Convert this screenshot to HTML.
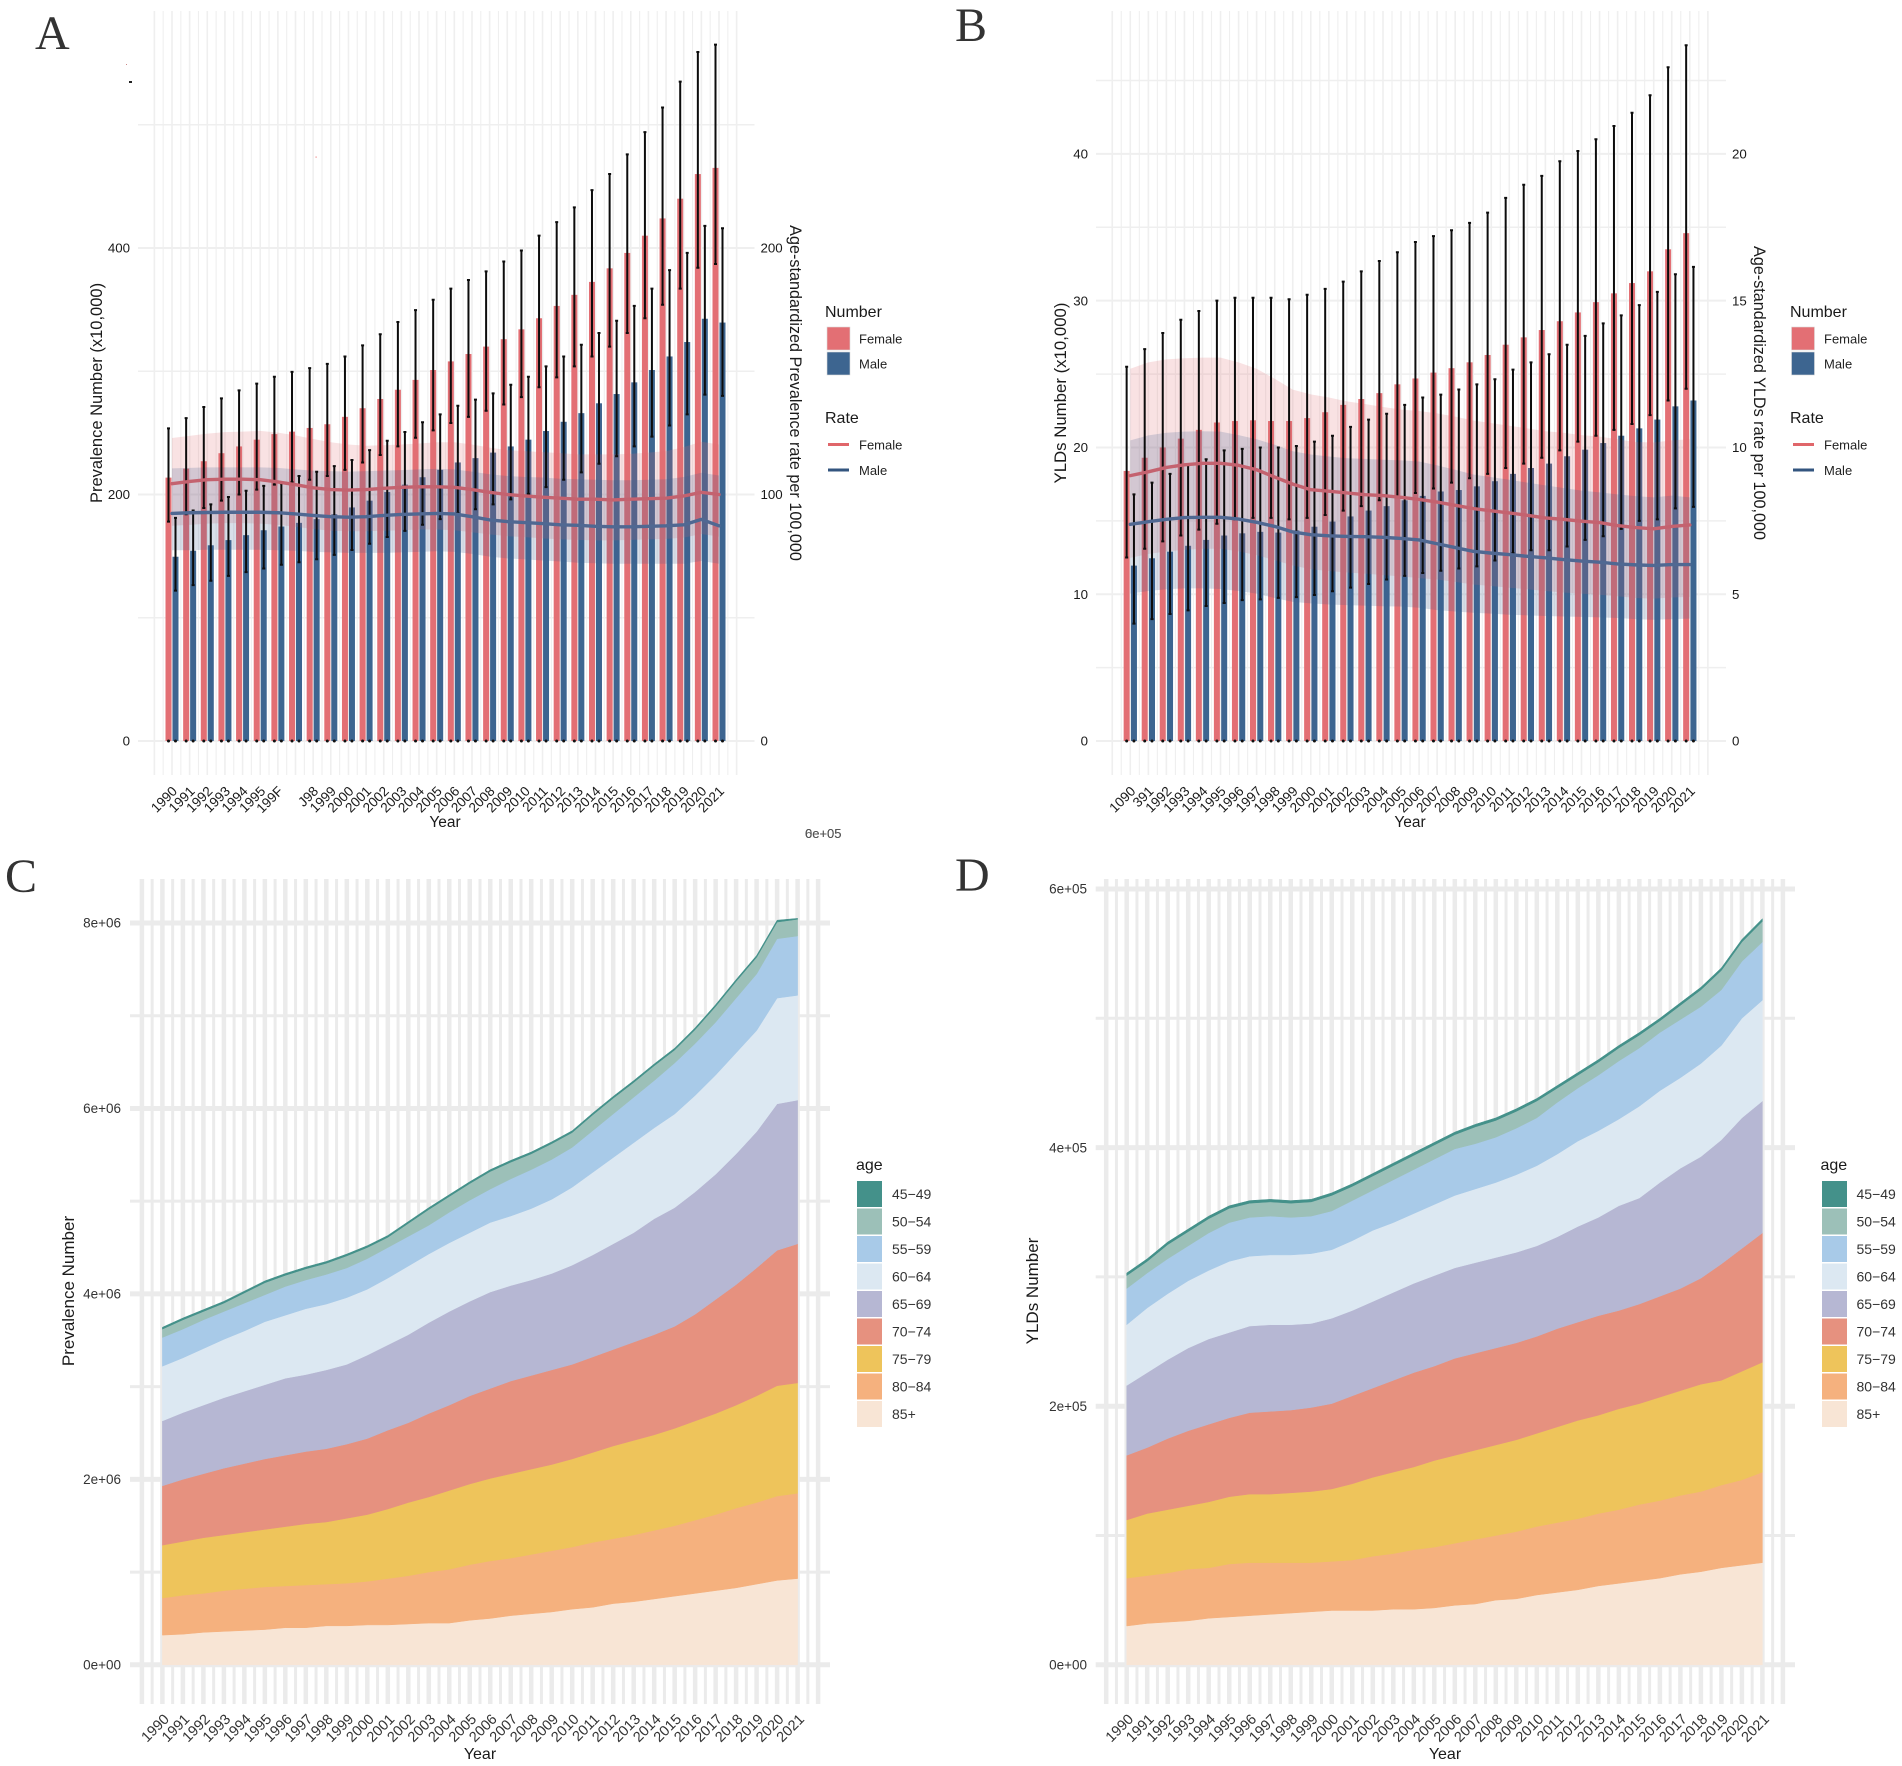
<!DOCTYPE html>
<html lang="en">
<head>
<meta charset="utf-8">
<title>Prevalence and YLDs charts</title>
<style>
html,body{margin:0;padding:0;background:#fff;}
body{width:1902px;height:1766px;overflow:hidden;}
svg{display:block;font-family:"Liberation Sans",sans-serif;}
.ttl{font-size:16.2px;fill:#1a1a1a;}
.lt{font-size:16px;fill:#1a1a1a;}
.ll{font-size:13px;fill:#222;}
.al{font-size:14px;fill:#333;}
.pl{font-family:"Liberation Serif",serif;font-size:48px;fill:#333;}
</style>
</head>
<body>
<svg id="figure" width="1902" height="1766" viewBox="0 0 1902 1766" xmlns="http://www.w3.org/2000/svg">
  <rect width="1902" height="1766" fill="#fff"/>
  <g id="panelA"></g>
  <g id="panelB"></g>
  <g id="panelC"></g>
  <g id="panelD"></g>

  <text class="pl" x="35" y="49">A</text>
  <text class="pl" x="955" y="41">B</text>
  <text class="pl" x="5" y="892">C</text>
  <text class="pl" x="955" y="891">D</text>

  <rect x="129" y="81" width="3" height="2" fill="#222"/>
  <rect x="126" y="64" width="1" height="1" fill="#c88"/>
  <rect x="315.5" y="156.5" width="1.2" height="1.2" fill="#e88"/>

  <!-- Panel A titles and legend -->
  <text transform="translate(102,393) rotate(-90)" text-anchor="middle" style="font-size:16.5px;fill:#1a1a1a">Prevalence Number (x10,000)</text>
  <text class="ttl" transform="translate(790,393) rotate(90)" text-anchor="middle">Age-standardized Prevalence rate per 100,000</text>
  <text x="445" y="827" text-anchor="middle" style="font-size:15.5px;fill:#1a1a1a">Year</text>
  <text x="805" y="838" style="font-size:13px;fill:#555">0e+05</text>
  <text x="805" y="838" style="font-size:13px;fill:#555">6e+05</text>
  <g>
    <text class="lt" x="825" y="317">Number</text>
    <rect x="827" y="327" width="23" height="23" fill="#e36f74" stroke="#ddd" stroke-width=".6"/>
    <text class="ll" x="859" y="343.5">Female</text>
    <rect x="827" y="352" width="23" height="23" fill="#3d6590" stroke="#ddd" stroke-width=".6"/>
    <text class="ll" x="859" y="368.5">Male</text>
    <text class="lt" x="825" y="423">Rate</text>
    <line x1="828" x2="849" y1="444.5" y2="444.5" stroke="#e0666a" stroke-width="3"/>
    <text class="ll" x="859" y="449.5">Female</text>
    <line x1="828" x2="849" y1="470" y2="470" stroke="#33557f" stroke-width="3"/>
    <text class="ll" x="859" y="475">Male</text>
  </g>

  <!-- Panel B titles and legend -->
  <text transform="translate(1066,393) rotate(-90)" text-anchor="middle" style="font-size:16.8px;fill:#1a1a1a">YLDs Number (x10,000)</text>
  <text class="ttl" transform="translate(1754,393) rotate(90)" text-anchor="middle">Age-standardized YLDs rate per 100,000</text>
  <text x="1410" y="827" text-anchor="middle" style="font-size:15.5px;fill:#1a1a1a">Year</text>
  <g>
    <text class="lt" x="1790" y="317">Number</text>
    <rect x="1791.5" y="327" width="23" height="23" fill="#e36f74" stroke="#ddd" stroke-width=".6"/>
    <text class="ll" x="1824" y="343.5">Female</text>
    <rect x="1791.5" y="352" width="23" height="23" fill="#3d6590" stroke="#ddd" stroke-width=".6"/>
    <text class="ll" x="1824" y="368.5">Male</text>
    <text class="lt" x="1790" y="423">Rate</text>
    <line x1="1793" x2="1814" y1="444.5" y2="444.5" stroke="#e0666a" stroke-width="3"/>
    <text class="ll" x="1824" y="449.5">Female</text>
    <line x1="1793" x2="1814" y1="470" y2="470" stroke="#33557f" stroke-width="3"/>
    <text class="ll" x="1824" y="475">Male</text>
  </g>

  <!-- Panel C titles and legend -->
  <text transform="translate(74,1291) rotate(-90)" text-anchor="middle" style="font-size:17px;fill:#1a1a1a">Prevalence Number</text>
  <text x="480" y="1759" text-anchor="middle" style="font-size:16px;fill:#1a1a1a">Year</text>
  <g>
    <text class="lt" x="856" y="1170">age</text>
    <rect x="857" y="1181" width="25" height="26" fill="#44918a"/>
    <text class="al" x="892" y="1199">45−49</text>
    <rect x="857" y="1208.5" width="25" height="26" fill="#9cc0b8"/>
    <text class="al" x="892" y="1226.5">50−54</text>
    <rect x="857" y="1236" width="25" height="26" fill="#a8cae8"/>
    <text class="al" x="892" y="1254">55−59</text>
    <rect x="857" y="1263.5" width="25" height="26" fill="#dce8f2"/>
    <text class="al" x="892" y="1281.5">60−64</text>
    <rect x="857" y="1291" width="25" height="26" fill="#b6b7d3"/>
    <text class="al" x="892" y="1309">65−69</text>
    <rect x="857" y="1318.5" width="25" height="26" fill="#e6917f"/>
    <text class="al" x="892" y="1336.5">70−74</text>
    <rect x="857" y="1346" width="25" height="26" fill="#eec45b"/>
    <text class="al" x="892" y="1364">75−79</text>
    <rect x="857" y="1373.5" width="25" height="26" fill="#f5b17e"/>
    <text class="al" x="892" y="1391.5">80−84</text>
    <rect x="857" y="1401" width="25" height="26" fill="#f8e5d5"/>
    <text class="al" x="892" y="1419">85+</text>
  </g>

  <!-- Panel D titles and legend -->
  <text transform="translate(1038,1291) rotate(-90)" text-anchor="middle" style="font-size:17px;fill:#1a1a1a">YLDs Number</text>
  <text x="1445" y="1759" text-anchor="middle" style="font-size:16px;fill:#1a1a1a">Year</text>
  <g>
    <text class="lt" x="1820.5" y="1170">age</text>
    <rect x="1822" y="1181" width="25" height="26" fill="#44918a"/>
    <text class="al" x="1856.5" y="1199">45−49</text>
    <rect x="1822" y="1208.5" width="25" height="26" fill="#9cc0b8"/>
    <text class="al" x="1856.5" y="1226.5">50−54</text>
    <rect x="1822" y="1236" width="25" height="26" fill="#a8cae8"/>
    <text class="al" x="1856.5" y="1254">55−59</text>
    <rect x="1822" y="1263.5" width="25" height="26" fill="#dce8f2"/>
    <text class="al" x="1856.5" y="1281.5">60−64</text>
    <rect x="1822" y="1291" width="25" height="26" fill="#b6b7d3"/>
    <text class="al" x="1856.5" y="1309">65−69</text>
    <rect x="1822" y="1318.5" width="25" height="26" fill="#e6917f"/>
    <text class="al" x="1856.5" y="1336.5">70−74</text>
    <rect x="1822" y="1346" width="25" height="26" fill="#eec45b"/>
    <text class="al" x="1856.5" y="1364">75−79</text>
    <rect x="1822" y="1373.5" width="25" height="26" fill="#f5b17e"/>
    <text class="al" x="1856.5" y="1391.5">80−84</text>
    <rect x="1822" y="1401" width="25" height="26" fill="#f8e5d5"/>
    <text class="al" x="1856.5" y="1419">85+</text>
  </g>
</svg>

<script>
// ---- shared categories ----
const years = [1990,1991,1992,1993,1994,1995,1996,1997,1998,1999,2000,2001,2002,2003,2004,2005,2006,2007,2008,2009,2010,2011,2012,2013,2014,2015,2016,2017,2018,2019,2020,2021];
const labelsA = ["1990","1991","1992","1993","1994","1995","199F","","J98","1999","2000","2001","2002","2003","2004","2005","2006","2007","2008","2009","2010","2011","2012","2013","2014","2015","2016","2017","2018","2019","2020","2021"];
const labelsB = ["1090","391","1992","1993","1994","1995","1996","1997","1998","1999","2000","2001","2002","2003","2004","2005","2006","2007","2008","2009","2010","2011","2012","2013","2014","2015","2016","2017","2018","2019","2020","2021"];
const labelsCD = ["1990","1991","1992","1993","1994","1995","1996","1997","1998","1999","2000","2001","2002","2003","2004","2005","2006","2007","2008","2009","2010","2011","2012","2013","2014","2015","2016","2017","2018","2019","2020","2021"];

// ---- Panel A: prevalence number (x10,000) ----
const aFemale = [213.7,221,227,233.5,239,244.5,249,251,254,257,263,270,277.5,285,293,301,308,314,320,326,334,343,353,362,372.5,383.5,396,410,424,440,460,465];
const aFemaleUpper = [253.7,262,271,278,284.5,290,295.5,299.5,302.5,306,312,321,330,340,349.6,358,367,374,381,389,398,410,421,433,447,460,476,494,514,535,559,565];
const aFemaleLower = [178,184,189,195,200,204,208,210,212,215,220,226,232,239,246,252,258,263,268,273,279,287,295,304,312,320,331,343,354,367,384,387];
const aMale = [149.5,154.4,158.8,163,167,171,174,177,180,184,189.5,195,202,208,214,220,226,229.5,234,239,244.5,251.5,259,266,274,281.5,291,301,312,323.7,342.6,339.5];
const aMaleUpper = [181,187,192,198,203,207,209,215,218.5,223,228,236,243.6,250.7,258.6,265,272,277,282,289,295.5,304,312,321.5,331,341,353,367,382,396,418,416];
const aMaleLower = [122,126.5,130,134,137,140,143,145,147.5,151,155,160,165.5,170.5,175.5,180,185,188,192,196,200.5,206,212,218,225,231,239,247,256,265,281,280];
// Panel A: age-standardized prevalence rate
const aRateFemale = [104.4,105.3,106,106.2,106.2,106,105.1,104,102.7,102,101.8,102,102.5,102.9,103.1,103.1,102.9,102,100.9,100,99.4,98.9,98.5,98.1,98.1,97.8,98.1,98.3,98.5,99.4,100.9,100];
const aRateFemaleUpper = [122.9,123.8,124.7,125.3,125.5,125.8,125.1,124,122.5,121.2,120.3,119.8,120,120.3,120.7,121.2,121.2,120.3,119,118,117.6,117.2,116.8,116.3,116.3,116.3,116.5,117,117.6,119.2,121.4,120.3];
const aRateFemaleLower = [87.3,87.7,88.2,88.4,88.4,88.2,87.7,86.9,86,85.3,85.1,85.1,85.3,85.5,85.8,85.8,85.5,84.7,83.8,83.1,82.7,82.2,81.8,81.6,81.4,81.4,81.6,81.8,82,82.5,84,82.9];
const aRateMale = [92.3,92.6,92.7,92.8,92.8,92.8,92.6,92.1,91.5,91,90.8,91,91.5,91.9,92.1,92.3,92.1,91,89.7,89,88.6,88.2,87.7,87.5,87.1,86.9,86.9,87.1,87.3,87.7,89.9,87.3];
const aRateMaleUpper = [110.6,110.8,111,111,111,111,110.8,110.2,109.7,109.5,109.3,109.5,109.7,109.9,110.2,110.4,110.2,109.3,108.2,107.5,107.1,106.9,106.4,106.2,106,105.8,105.8,106,106.2,107.1,108.8,107.7];
const aRateMaleLower = [77.4,77.4,77.6,77.6,77.6,77.6,77.4,77.2,76.7,76.5,76.3,76.3,76.3,76.5,76.7,77,76.7,75.9,74.8,74.1,73.7,73.2,72.8,72.3,72.1,71.9,71.9,71.9,71.9,71.9,73,71.9];
const aTicksLeft = [0,200,400];
const aTicksRight = [0,100,200];
const aGridMinor = [100,300,500];

// ---- Panel B: YLDs number (x10,000) ----
const bFemale = [18.4,19.3,20,20.6,21.2,21.7,21.8,21.85,21.8,21.8,22,22.4,22.9,23.3,23.7,24.3,24.7,25.1,25.4,25.8,26.3,27,27.5,28,28.6,29.2,29.9,30.5,31.2,32,33.5,34.6];
const bFemaleUpper = [25.5,26.7,27.8,28.7,29.3,30,30.2,30.2,30.2,30.1,30.4,30.8,31.3,32,32.7,33.3,34,34.4,34.8,35.3,36,37,37.9,38.5,39.5,40.2,41,41.9,42.8,44,45.9,47.4];
const bFemaleLower = [12.5,13.1,13.6,14,14.4,14.8,15.1,15.2,15.2,15.1,15.2,15.4,15.7,16,16.4,16.6,16.9,17.2,17.6,17.9,18.2,18.6,18.9,19.3,19.8,20.4,20.8,21.2,21.6,22.2,23.2,24];
const bMale = [11.95,12.45,12.9,13.3,13.7,14,14.15,14.25,14.2,14.35,14.6,14.95,15.3,15.7,16,16.4,16.7,17,17.1,17.35,17.7,18.2,18.6,18.9,19.4,19.85,20.3,20.8,21.3,21.9,22.8,23.2];
const bMaleUpper = [16.8,17.6,18.2,18.8,19.2,19.8,19.9,20,20,20.1,20.4,20.8,21.4,21.9,22.3,22.9,23.4,23.6,23.95,24.3,24.65,25.3,25.8,26.35,27,27.6,28.45,29,29.7,30.6,31.8,32.3];
const bMaleLower = [8,8.3,8.65,8.9,9.2,9.4,9.6,9.65,9.75,9.8,9.95,10.2,10.45,10.7,11,11.25,11.45,11.6,11.75,11.9,12.3,12.8,13,13,13.25,13.7,13.95,14.45,15,15.1,15.85,15.95];
// Panel B: age-standardized YLDs rate
const bRateFemale = [9.04,9.17,9.32,9.41,9.46,9.46,9.39,9.24,8.99,8.75,8.56,8.51,8.45,8.39,8.36,8.3,8.23,8.14,8.03,7.92,7.84,7.77,7.69,7.6,7.55,7.49,7.44,7.34,7.27,7.23,7.31,7.36];
const bRateFemaleUpper = [12.68,12.9,13,13.04,13.06,13.06,12.9,12.68,12.34,11.97,11.81,11.7,11.57,11.48,11.38,11.29,11.24,11.16,11.05,10.92,10.83,10.74,10.65,10.55,10.5,10.42,10.37,10.28,10.18,10.17,10.24,10.28];
const bRateFemaleLower = [6.24,6.37,6.46,6.51,6.55,6.55,6.46,6.33,6.16,5.98,5.85,5.79,5.74,5.7,5.65,5.61,5.55,5.5,5.42,5.33,5.28,5.22,5.17,5.11,5.06,5.02,4.98,4.93,4.87,4.85,4.89,4.91];
const bRateMale = [7.38,7.47,7.55,7.61,7.62,7.62,7.56,7.45,7.31,7.12,7.03,6.99,6.97,6.96,6.94,6.9,6.85,6.72,6.59,6.46,6.4,6.35,6.29,6.24,6.18,6.13,6.09,6.03,6,5.98,6.01,6.01];
const bRateMaleUpper = [10.24,10.41,10.5,10.54,10.55,10.54,10.42,10.28,10.09,9.87,9.76,9.69,9.63,9.61,9.58,9.56,9.52,9.39,9.24,9.08,8.99,8.9,8.8,8.71,8.62,8.53,8.47,8.4,8.34,8.3,8.36,8.3];
const bRateMaleLower = [5.02,5.11,5.17,5.2,5.2,5.18,5.11,5.02,4.87,4.74,4.69,4.65,4.63,4.61,4.59,4.58,4.54,4.46,4.41,4.37,4.34,4.3,4.28,4.26,4.24,4.23,4.21,4.19,4.15,4.13,4.15,4.17];
const bTicksLeft = [0,10,20,30,40];
const bTicksRight = [0,5,10,15,20];
const bGridMinor = [5,15,25,35,45];

// ---- Panel C: cumulative stack tops, prevalence (x10,000) ----
const cTop85 = [32,33,35,36,37,38,40,40,42,42,43,43,44,45,45,48,50,53,55,57,60,62,66,68,71,74,77,80,83,87,91,93];
const cTop80 = [72,75,77,80,82,84,85,86,87,88,90,93,96,100,103,108,112,115,119,123,127,132,136,140,145,150,156,162,169,175,182,185];
const cTop75 = [129,133,137,140,143,146,149,152,154,158,162,168,175,181,188,195,201,206,211,216,222,229,236,242,248,255,263,271,280,290,301,304];
const cTop70 = [193,200,206,212,217,222,226,230,233,238,244,253,261,271,280,290,298,306,312,318,324,332,340,348,356,365,378,394,410,428,447,454];
const cTop65 = [263,272,280,288,295,302,309,313,318,324,334,345,356,369,381,392,402,409,415,422,431,442,454,466,481,493,510,529,551,575,605,609];
const cTop60 = [322,331,341,351,360,370,377,384,389,396,405,417,430,443,455,466,477,484,492,502,515,531,547,563,579,594,614,636,660,684,719,722];
const cTop55 = [353,362,372,381,390,399,408,415,421,428,438,450,462,474,488,501,513,524,534,545,558,576,594,612,630,649,670,693,719,745,783,786];
const cTop50 = [362,372,381,390,401,412,420,427,433,441,450,461,476,491,505,519,532,542,551,562,574,593,611,628,646,663,685,710,737,763,801,804];
const cTop45 = [364,374,383,392,403,414,422,429,435,443,452,463,478,493,507,521,534,544,553,564,576,595,613,630,648,665,687,712,739,765,803,805];
const cTicks = [0,200,400,600,800];
const cTickLabels = ["0e+00","2e+06","4e+06","6e+06","8e+06"];
const cGridMinor = [100,300,500,700];

// ---- Panel D: cumulative stack tops, YLDs (x1,000) ----
const dTop85 = [30,32,33,34,36,37,38,39,40,41,42,42,42,43,43,44,46,47,50,51,54,56,58,61,63,65,67,70,72,75,77,79];
const dTop80 = [67,69,71,74,75,78,79,79,79,79,80,81,84,86,89,91,94,97,100,103,107,110,113,117,120,124,127,131,134,139,143,149];
const dTop75 = [112,117,120,123,126,130,132,132,133,134,136,140,145,149,153,158,162,166,170,174,179,184,189,193,198,202,207,212,217,220,227,234];
const dTop70 = [162,168,175,181,186,191,195,196,197,199,202,208,214,220,226,231,237,241,245,249,254,260,265,270,274,279,285,291,299,310,322,334];
const dTop65 = [216,226,236,245,252,257,262,263,263,264,268,274,281,288,295,301,307,311,315,319,324,331,339,346,355,361,373,384,393,406,423,436];
const dTop60 = [263,276,287,297,305,312,316,317,317,318,321,328,336,342,349,356,363,368,373,379,386,395,405,413,422,432,444,454,465,479,500,514];
const dTop55 = [291,303,314,324,334,342,346,347,346,347,351,359,367,375,383,391,399,403,408,415,423,435,446,456,467,477,489,499,509,522,544,559];
const dTop50 = [301,312,325,335,345,353,357,358,357,358,363,370,378,386,394,402,410,416,421,428,436,446,456,466,477,487,498,510,522,537,559,575];
const dTop45 = [303,314,327,337,347,355,359,360,359,360,365,372,380,388,396,404,412,418,423,430,438,448,458,468,479,489,500,512,524,539,561,577];
const dTicks = [0,200,400,600];
const dTickLabels = ["0e+00","2e+05","4e+05","6e+05"];
const dGridMinor = [100,300,500];

const ageNames = ["85","80-84","75-79","70-74","65-69","60-64","55-59","50-54","45-49"];
const ageColors = ["#f8e5d5","#f5b17e","#eec45b","#e6917f","#b6b7d3","#dce8f2","#a8cae8","#9cc0b8","#44918a"];

const NS = "http://www.w3.org/2000/svg";
function mk(parent, tag, attrs, txt) {
  const el = document.createElementNS(NS, tag);
  for (const k in attrs) el.setAttribute(k, attrs[k]);
  if (txt !== undefined) el.textContent = txt;
  parent.appendChild(el);
  return el;
}
function scale(d0, d1, r0, r1) { return v => r0 + (v - d0) * (r1 - r0) / (d1 - d0); }

function drawGrid(g, x, y, box, majors, minors, st) {
  for (let t = 1989; t <= 2022; t += 0.5) {
    const isMajor = Number.isInteger(t);
    const l = mk(g, 'line', {x1:x(t), x2:x(t), y1:box.top, y2:box.bottom, stroke:st.color, 'stroke-width': isMajor ? st.vMajor : st.vMinor});
    
    
  }
  minors.forEach(v => {
    const l = mk(g, 'line', {x1:box.left, x2:box.right, y1:y(v), y2:y(v), stroke:st.color, 'stroke-width':st.hMinor});
    
    
  });
  majors.forEach(v => {
    const l = mk(g, 'line', {x1:box.left, x2:box.right, y1:y(v), y2:y(v), stroke:st.color, 'stroke-width':st.hMajor});
    
    
  });
}

function drawXLabels(g, x, labels, dx, yy, size, color) {
  labels.forEach((s, i) => {
    if (!s) return;
    const px = x(years[i]) + dx;
    const t = mk(g, 'text', {transform:'translate(' + px + ',' + yy + ') rotate(-45)', 'text-anchor':'end', 'font-size':size, fill:color}, s);
    
    
  });
}

function drawYLabels(g, y, ticks, labels, xx, anchor, size, color) {
  ticks.forEach((v, i) => {
    const t = mk(g, 'text', {x:xx, y:y(v) + 4.7, 'text-anchor':anchor, 'font-size':size, fill:color}, labels ? labels[i] : String(v));
    
    
  });
}

function ribbon(g, x, yr, up, lo, fill, name) {
  let pts = [];
  years.forEach((yy, i) => pts.push(x(yy) + ',' + yr(up[i])));
  for (let i = years.length - 1; i >= 0; i--) pts.push(x(years[i]) + ',' + yr(lo[i]));
  const p = mk(g, 'polygon', {points:pts.join(' '), fill:fill});
  
  
}

function rateLine(g, x, yr, vals, color, name) {
  const pts = years.map((yy, i) => x(yy) + ',' + yr(vals[i])).join(' ');
  const p = mk(g, 'polyline', {points:pts, fill:'none', stroke:color, 'stroke-width':3.4, 'stroke-linejoin':'round', 'stroke-linecap':'round'});
  
  
}

function bars(g, x, y, vals, off, fill, name) {
  years.forEach((yy, i) => {
    const top = y(vals[i]);
    const r = mk(g, 'rect', {x:x(yy) + off - 3, y:top, width:6, height:y(0) - top, fill:fill});
    
    
  });
}

function errors(g, x, y, up, lo, off, name) {
  years.forEach((yy, i) => {
    const px = x(yy) + off;
    const l = mk(g, 'path', {d:'M' + (px - 1.5) + ' ' + y(up[i]) + 'H' + (px + 1.5) + 'M' + px + ' ' + y(up[i]) + 'V' + y(lo[i]) + 'M' + (px - 1.5) + ' ' + y(lo[i]) + 'H' + (px + 1.5), stroke:'#0c0c0c', 'stroke-width':2, fill:'none'});
    
    
    const d = mk(g, 'circle', {cx:px, cy:y(0), r:1.5, fill:'#111'});
    
    
  });
}

function comboPanel(g, cfg) {
  const gridStyle = {color:'#efefef', vMajor:1.6, vMinor:1.1, hMajor:2, hMinor:1.5};
  drawGrid(g, cfg.x, cfg.y, cfg.box, cfg.ticksLeft, cfg.minors, gridStyle);
  bars(g, cfg.x, cfg.y, cfg.female, -cfg.off, '#e36f74', 'bar-female');
  bars(g, cfg.x, cfg.y, cfg.male, cfg.off, '#3d6590', 'bar-male');
  ribbon(g, cfg.x, cfg.yr, cfg.rFemaleUp, cfg.rFemaleLo, 'rgba(226,110,115,0.2)', 'rate-ribbon-female');
  ribbon(g, cfg.x, cfg.yr, cfg.rMaleUp, cfg.rMaleLo, 'rgba(60,95,145,0.2)', 'rate-ribbon-male');
  errors(g, cfg.x, cfg.y, cfg.femaleUp, cfg.femaleLo, -cfg.off, 'error-bar-female');
  errors(g, cfg.x, cfg.y, cfg.maleUp, cfg.maleLo, cfg.off, 'error-bar-male');
  rateLine(g, cfg.x, cfg.yr, cfg.rFemale, '#c4626f', 'rate-line-female');
  rateLine(g, cfg.x, cfg.yr, cfg.rMale, '#506892', 'rate-line-male');
  drawXLabels(g, cfg.x, cfg.labels, 6, 792, 13.6, '#1a1a1a');
  drawYLabels(g, cfg.y, cfg.ticksLeft, null, cfg.leftX, 'end', 13.3, '#1a1a1a');
  drawYLabels(g, cfg.yr, cfg.ticksRight, null, cfg.rightX, 'start', 13.3, '#1a1a1a');
}

function areaPanel(g, cfg) {
  const gridStyle = {color:'#ebebeb', vMajor:4.5, vMinor:3, hMajor:5, hMinor:3};
  drawGrid(g, cfg.x, cfg.y, cfg.box, cfg.ticks, cfg.minors, gridStyle);
  cfg.tops.forEach((top, k) => {
    const lower = k === 0 ? null : cfg.tops[k - 1];
    let pts = years.map((yy, i) => cfg.x(yy) + ',' + cfg.y(top[i]));
    for (let i = years.length - 1; i >= 0; i--) pts.push(cfg.x(years[i]) + ',' + cfg.y(lower ? lower[i] : 0));
    const p = mk(g, 'polygon', {points:pts.join(' '), fill:ageColors[k], stroke:ageColors[k], 'stroke-width':0.5});
    
    
  });
  drawXLabels(g, cfg.x, labelsCD, 7.5, 1720, 14.5, '#333');
  drawYLabels(g, cfg.y, cfg.ticks, cfg.tickLabels, cfg.leftX, 'end', 13.5, '#333');
}

comboPanel(document.getElementById('panelA'), {
  x:scale(1990,2021,172,719), y:scale(0,400,741,248), yr:scale(0,200,741,248),
  box:{top:11,bottom:775,left:138,right:754.5}, off:3.5,
  ticksLeft:aTicksLeft, ticksRight:aTicksRight, minors:aGridMinor, labels:labelsA,
  female:aFemale, femaleUp:aFemaleUpper, femaleLo:aFemaleLower,
  male:aMale, maleUp:aMaleUpper, maleLo:aMaleLower,
  rFemale:aRateFemale, rFemaleUp:aRateFemaleUpper, rFemaleLo:aRateFemaleLower,
  rMale:aRateMale, rMaleUp:aRateMaleUpper, rMaleLo:aRateMaleLower,
  leftX:130, rightX:760.5
});
comboPanel(document.getElementById('panelB'), {
  x:scale(1990,2021,1130.3,1689.8), y:scale(0,40,741,153.9), yr:scale(0,20,741,153.9),
  box:{top:11,bottom:775,left:1096,right:1726}, off:3.65,
  ticksLeft:bTicksLeft, ticksRight:bTicksRight, minors:bGridMinor, labels:labelsB,
  female:bFemale, femaleUp:bFemaleUpper, femaleLo:bFemaleLower,
  male:bMale, maleUp:bMaleUpper, maleLo:bMaleLower,
  rFemale:bRateFemale, rFemaleUp:bRateFemaleUpper, rFemaleLo:bRateFemaleLower,
  rMale:bRateMale, rMaleUp:bRateMaleUpper, rMaleLo:bRateMaleLower,
  leftX:1088, rightX:1732
});
areaPanel(document.getElementById('panelC'), {
  x:scale(1990,2021,162.4,797.6), y:scale(0,800,1664.8,923),
  box:{top:879,bottom:1704,left:130,right:830},
  ticks:cTicks, tickLabels:cTickLabels, minors:cGridMinor,
  tops:[cTop85,cTop80,cTop75,cTop70,cTop65,cTop60,cTop55,cTop50,cTop45],
  leftX:121
});
areaPanel(document.getElementById('panelD'), {
  x:scale(1990,2021,1126.7,1762.4), y:scale(0,600,1664.8,889),
  box:{top:879,bottom:1704,left:1095.7,right:1795},
  ticks:dTicks, tickLabels:dTickLabels, minors:dGridMinor,
  tops:[dTop85,dTop80,dTop75,dTop70,dTop65,dTop60,dTop55,dTop50,dTop45],
  leftX:1087
});
</script>
</body>
</html>
